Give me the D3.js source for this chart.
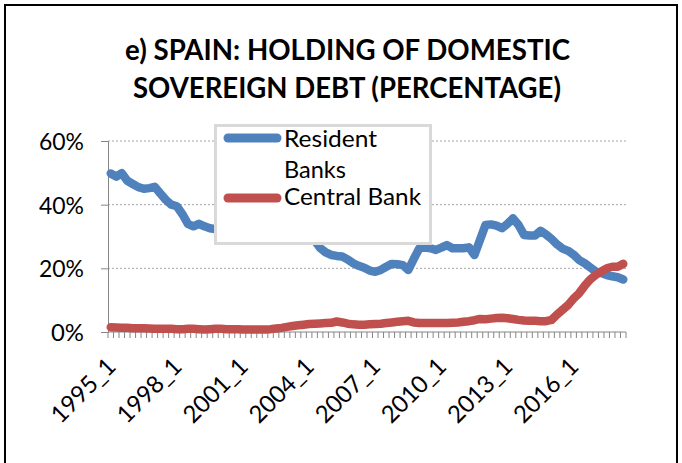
<!DOCTYPE html>
<html>
<head>
<meta charset="utf-8">
<script src="https://cdn.jsdelivr.net/npm/d3@7/dist/d3.min.js"></script>
<style>
  html, body { margin: 0; padding: 0; background: #fff; }
  svg { display: block; }
  text { font-family: Lato, "Open Sans", sans-serif; fill: #000; }
</style>
</head>
<body>
<div id="chart"></div>
<script>
// ---------- data ----------
const titleLines = ["e) SPAIN: HOLDING OF DOMESTIC", "SOVEREIGN DEBT (PERCENTAGE)"];
const seriesNames = ["Resident Banks", "Central Bank"];
const startYear = 1995, nQuarters = 94; // 1995_1 ... 2018_2
const categories = [];
for (let i = 0; i < nQuarters; i++) categories.push((startYear + Math.floor(i / 4)) + "_" + (i % 4 + 1));
const tickLabels = ["1995_1", "1998_1", "2001_1", "2004_1", "2007_1", "2010_1", "2013_1", "2016_1"];
const yTicks = [0, 0.2, 0.4, 0.6];

const residentBanks = [
  49.8, 48.8, 49.9, 47.5, 46.5, 45.5, 45.0, 45.2, 45.6, 43.5,
  41.5, 40.0, 39.5, 37.0, 34.0, 33.2, 34.0, 33.2, 32.6, 32.3,
  32.0, 31.8, 31.5, 31.5, 31.2, 31.0, 30.8, 30.5, 30.5, 30.2,
  30.0, 30.0, 29.8, 29.5, 29.5, 29.3, 29.0, 28.8, 26.4, 25.0,
  24.2, 23.9, 23.7, 22.8, 21.6, 20.8, 20.2, 19.3, 18.9, 19.5,
  20.5, 21.4, 21.3, 21.0, 19.5, 23.0, 26.3, 26.5, 26.3, 25.8,
  26.5, 27.3, 26.3, 26.3, 26.3, 26.6, 24.2, 28.9, 33.6, 33.8,
  33.4, 32.6, 34.0, 35.7, 33.6, 30.5, 30.3, 30.3, 31.8, 30.6,
  29.2, 27.5, 26.2, 25.5, 24.3, 22.6, 21.6, 20.3, 19.0, 18.5,
  17.9, 17.5, 17.2, 16.5
];
const centralBank = [
  1.5, 1.4, 1.3, 1.3, 1.2, 1.2, 1.2, 1.1, 1.0, 1.0,
  1.0, 1.0, 0.9, 0.9, 1.0, 1.0, 0.9, 0.8, 0.9, 1.0,
  1.0, 0.9, 0.9, 0.9, 0.8, 0.8, 0.8, 0.8, 0.8, 0.9,
  1.1, 1.3, 1.6, 1.9, 2.1, 2.3, 2.5, 2.6, 2.7, 2.8,
  2.9, 3.3, 3.0, 2.6, 2.4, 2.3, 2.3, 2.4, 2.5, 2.6,
  2.8, 3.0, 3.2, 3.4, 3.5, 3.0, 2.8, 2.8, 2.8, 2.8,
  2.8, 2.8, 2.9, 3.0, 3.2, 3.4, 3.7, 4.1, 4.0, 4.2,
  4.4, 4.5, 4.3, 4.1, 3.8, 3.6, 3.5, 3.5, 3.4, 3.4,
  3.8, 5.5, 7.0, 8.5, 10.5, 12.2, 14.5, 16.5, 17.9, 19.0,
  20.0, 20.5, 20.5, 21.4
];
const colors = ["#4F81BD", "#C0504D"];

// ---------- chart ----------
const W = 682, H = 463;
const svg = d3.select("#chart").append("svg").attr("width", W).attr("height", H);
svg.append("rect").attr("width", W).attr("height", H).attr("fill", "#fff");

// outer frame
svg.append("rect").attr("x", 5).attr("y", 5).attr("width", 672).attr("height", 480)
  .attr("fill", "none").attr("stroke", "#000").attr("stroke-width", 2);

// title
const titleG = svg.append("g");
titleG.append("text").attr("x", 347.5).attr("y", 60).attr("text-anchor", "middle")
  .attr("font-size", 28).attr("font-weight", 700)
  .attr("textLength", 445).attr("lengthAdjust", "spacingAndGlyphs").text(titleLines[0]);
titleG.append("text").attr("x", 347).attr("y", 98).attr("text-anchor", "middle")
  .attr("font-size", 28).attr("font-weight", 700)
  .attr("textLength", 428).attr("lengthAdjust", "spacingAndGlyphs").text(titleLines[1]);

const x = d3.scaleBand().domain(categories).range([108, 626]).padding(0);
const y = d3.scaleLinear().domain([0, 0.6]).range([332, 141]);
const cx = c => x(c) + x.bandwidth() / 2;

// gridlines
svg.append("g").selectAll("line").data(yTicks.filter(d => d > 0)).join("line")
  .attr("x1", 108).attr("x2", 626)
  .attr("y1", d => y(d)).attr("y2", d => y(d))
  .attr("stroke", "#a6a6a6").attr("stroke-width", 1).attr("stroke-dasharray", "2,2");

// y axis
const yAxis = svg.append("g").attr("transform", "translate(108,0)")
  .call(d3.axisLeft(y).tickValues(yTicks).tickFormat(d3.format(".0%")).tickSize(7).tickPadding(17));
yAxis.select(".domain").attr("stroke", "#868686");
yAxis.selectAll(".tick line").attr("stroke", "#868686");
yAxis.selectAll(".tick text").attr("font-size", 24).attr("font-family", "Lato").attr("fill", "#000")
  .attr("dy", "0.36em").attr("textLength", d => d === 0 ? 33 : 45).attr("lengthAdjust", "spacingAndGlyphs");

// x axis line & boundary ticks
const xg = svg.append("g");
xg.append("line").attr("x1", x.range()[0]).attr("x2", x.range()[1]).attr("y1", 332).attr("y2", 332)
  .attr("stroke", "#868686");
const boundaries = categories.map(c => x(c)).concat([x.range()[1]]);
xg.selectAll("line.tk").data(boundaries).join("line").attr("class", "tk")
  .attr("x1", d => d).attr("x2", d => d).attr("y1", 332).attr("y2", 338)
  .attr("stroke", "#868686");
xg.selectAll("text").data(tickLabels).join("text")
  .attr("transform", d => `translate(${cx(d) + 0.5},362) rotate(-45)`)
  .attr("text-anchor", "end").attr("dy", "0.35em").attr("font-size", 24)
  .attr("textLength", 80).attr("lengthAdjust", "spacingAndGlyphs")
  .text(d => d);

// lines
const line = d3.line().x((d, i) => cx(categories[i])).y(d => y(d / 100));
[residentBanks, centralBank].forEach((s, k) => {
  svg.append("path").datum(s).attr("d", line)
    .attr("fill", "none").attr("stroke", colors[k]).attr("stroke-width", 8.5)
    .attr("stroke-linejoin", "round").attr("stroke-linecap", "round");
});

// legend
const lg = svg.append("g");
lg.append("rect").attr("x", 215.5).attr("y", 125.5).attr("width", 215).attr("height", 118)
  .attr("fill", "#fff").attr("stroke", "#d9d9d9").attr("stroke-width", 3);
const legendRows = [
  { y: 138, lines: [{ t: "Resident", by: 147, w: 93 }, { t: "Banks", by: 178, w: 62 }] },
  { y: 198, lines: [{ t: "Central Bank", by: 205, w: 137 }] }
];
legendRows.forEach((r, k) => {
  lg.append("line").attr("x1", 228).attr("x2", 277).attr("y1", r.y).attr("y2", r.y)
    .attr("stroke", colors[k]).attr("stroke-width", 9).attr("stroke-linecap", "round");
  r.lines.forEach(l => {
    lg.append("text").attr("x", 284).attr("y", l.by).attr("font-size", 24)
      .attr("textLength", l.w).attr("lengthAdjust", "spacingAndGlyphs").text(l.t);
  });
});
</script>
</body>
</html>
